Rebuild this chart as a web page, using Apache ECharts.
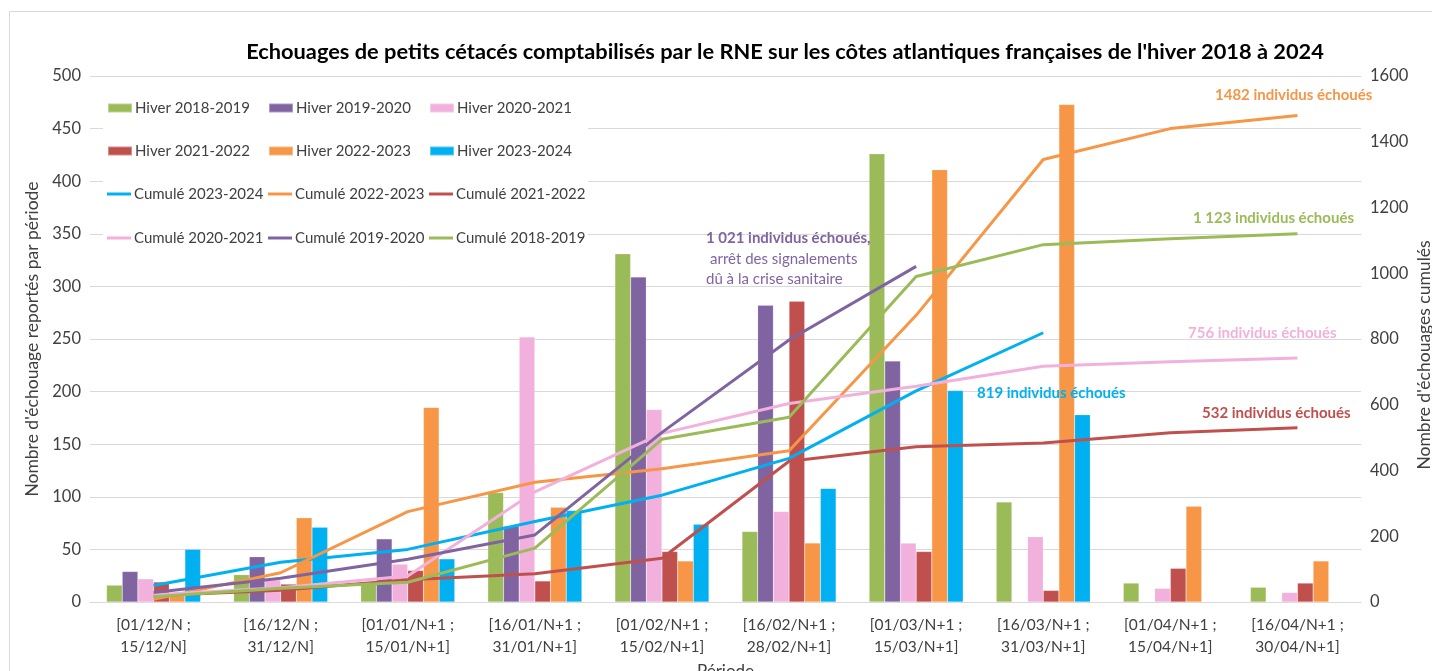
<!DOCTYPE html>
<html>
<head>
<meta charset="utf-8">
<script src="https://cdn.jsdelivr.net/npm/echarts@6/dist/echarts.min.js"></script>
<style>
html,body{margin:0;padding:0;background:#fff;overflow:hidden;width:100%;height:100%;}
#chart{position:absolute;left:0;top:0;width:1432px;height:671px;}
</style>
</head>
<body>
<div id="chart"></div>
<script>
// ---- Data ----
const categories = [
  '[01/12/N ;\n15/12/N]', '[16/12/N ;\n31/12/N]', '[01/01/N+1 ;\n15/01/N+1]', '[16/01/N+1 ;\n31/01/N+1]',
  '[01/02/N+1 ;\n15/02/N+1]', '[16/02/N+1 ;\n28/02/N+1]', '[01/03/N+1 ;\n15/03/N+1]', '[16/03/N+1 ;\n31/03/N+1]',
  '[01/04/N+1 ;\n15/04/N+1]', '[16/04/N+1 ;\n30/04/N+1]'
];
const hiver2018_2019 = [16, 26, 18, 104, 331, 67, 426, 95, 18, 14];
const hiver2019_2020 = [29, 43, 60, 72, 309, 282, 229, null, null, null];
const hiver2020_2021 = [22, 21, 36, 252, 183, 86, 56, 62, 13, 9];
const hiver2021_2022 = [19, 17, 30, 20, 48, 286, 48, 11, 32, 18];
const hiver2022_2023 = [6, 80, 185, 90, 39, 56, 411, 473, 91, 39];
const hiver2023_2024 = [50, 71, 41, 87, 74, 108, 201, 178, null, null];

const cumul2023_2024 = [50, 121, 160, 245, 325, 437, 642, 819, null, null];
const cumul2022_2023 = [8, 89, 275, 364, 405, 460, 872, 1346, 1440, 1480];
const cumul2021_2022 = [19, 36, 68, 86, 133, 428, 472, 484, 515, 530];
const cumul2020_2021 = [22, 43, 79, 335, 513, 604, 656, 717, 731, 742];
const cumul2019_2020 = [29, 72, 130, 204, 516, 797, 1021, null, null, null];
const cumul2018_2019 = [16, 42, 60, 164, 495, 562, 990, 1087, 1105, 1120];

const leftTicks = {min: 0, max: 500, interval: 50};
const rightTicks = {min: 0, max: 1600, interval: 200};

// ---- Styles ----
const C = {
  green: '#9BBB59', purple: '#8064A2', pink: '#F2B1DC',
  red: '#C0504D', orange: '#F79646', blue: '#00B0F0'
};
const FONT = 'Lato, "Open Sans", sans-serif';
const TXT = '#404040';

const barSeries = [
  ['Hiver 2018-2019', hiver2018_2019, C.green],
  ['Hiver 2019-2020', hiver2019_2020, C.purple],
  ['Hiver 2020-2021', hiver2020_2021, C.pink],
  ['Hiver 2021-2022', hiver2021_2022, C.red],
  ['Hiver 2022-2023', hiver2022_2023, C.orange],
  ['Hiver 2023-2024', hiver2023_2024, C.blue]
].map(([name, data, color]) => ({
  name, type: 'bar', data, yAxisIndex: 0, z: 2,
  barGap: '0%', barCategoryGap: '26%',
  itemStyle: {color, borderColor: 'rgba(255,255,255,0.35)', borderWidth: 0.5},
  emphasis: {disabled: true}
}));

const lineSeries = [
  ['Cumulé 2023-2024', cumul2023_2024, C.blue],
  ['Cumulé 2022-2023', cumul2022_2023, C.orange],
  ['Cumulé 2021-2022', cumul2021_2022, C.red],
  ['Cumulé 2020-2021', cumul2020_2021, C.pink],
  ['Cumulé 2019-2020', cumul2019_2020, C.purple],
  ['Cumulé 2018-2019', cumul2018_2019, C.green]
].map(([name, data, color]) => ({
  name, type: 'line', data, yAxisIndex: 1, z: 5,
  symbol: 'none', showSymbol: false, connectNulls: false,
  itemStyle: {color},
  lineStyle: {color, width: 3},
  emphasis: {disabled: true}
}));

// legend layout: 4 rows x 3 columns, one legend per item
const legendNames = [
  ['Hiver 2018-2019', 'Hiver 2019-2020', 'Hiver 2020-2021'],
  ['Hiver 2021-2022', 'Hiver 2022-2023', 'Hiver 2023-2024'],
  ['Cumulé 2023-2024', 'Cumulé 2022-2023', 'Cumulé 2021-2022'],
  ['Cumulé 2020-2021', 'Cumulé 2019-2020', 'Cumulé 2018-2019']
];
const rowY = [108, 151, 194, 238];
const colX = [107, 268, 429];
const legends = [];
legendNames.forEach((row, r) => {
  row.forEach((name, c) => {
    const isBar = r < 2;
    legends.push({
      data: [{name, icon: 'rect'}],
      left: colX[c], top: rowY[r] - 10,
      padding: 0,
      itemWidth: 24, itemHeight: isBar ? 9 : 3,
      itemGap: 0,
      selectedMode: false,
      textStyle: {fontFamily: FONT, fontSize: 15, color: TXT, padding: [0, 0, 0, -2], lineHeight: 20}
    });
  });
});

function note(text, x, y, color, bold) {
  return {
    type: 'text', left: x, top: y - 10, z: 10,
    style: {text, fill: color, font: (bold ? 'bold ' : '') + '15px ' + FONT}
  };
}

const option = {
  backgroundColor: '#ffffff',
  animation: false,
  title: {
    text: "Echouages de petits cétacés comptabilisés par le RNE sur les côtes atlantiques françaises de l'hiver 2018 à 2024",
    left: 780, top: 36, textAlign: 'center',
    textStyle: {fontFamily: FONT, fontWeight: 'bold', fontSize: 21.8, color: '#000'}
  },
  legend: legends,
  grid: {left: 90, right: 71, top: 76, bottom: 69, containLabel: false, outerBoundsMode: 'none'},
  xAxis: {
    type: 'category', data: categories,
    name: 'Période', nameLocation: 'middle', nameGap: 61,
    nameTextStyle: {fontFamily: FONT, fontSize: 17, color: TXT},
    axisLine: {lineStyle: {color: '#d9d9d9', width: 1}},
    axisTick: {show: false},
    axisLabel: {fontFamily: FONT, fontSize: 15.5, color: TXT, margin: 12, lineHeight: 22, interval: 0}
  },
  yAxis: [
    {
      type: 'value', min: leftTicks.min, max: leftTicks.max, interval: leftTicks.interval,
      name: "Nombre d'échouage reportés par période", nameLocation: 'middle', nameGap: 47, nameRotate: 90,
      nameTextStyle: {fontFamily: FONT, fontSize: 17.5, color: TXT},
      axisLine: {show: false}, axisTick: {show: false},
      axisLabel: {fontFamily: FONT, fontSize: 16.5, color: TXT, margin: 9, formatter: v => String(v)},
      splitLine: {lineStyle: {color: '#d9d9d9', width: 1}}
    },
    {
      type: 'value', min: rightTicks.min, max: rightTicks.max, interval: rightTicks.interval,
      position: 'right',
      axisLine: {show: false}, axisTick: {show: false},
      axisLabel: {fontFamily: FONT, fontSize: 16.5, color: TXT, margin: 9, formatter: v => String(v)},
      splitLine: {show: false}
    }
  ],
  graphic: [
    {type: 'rect', left: 7, top: 9, z: -10, silent: true,
     shape: {width: 1500, height: 700}, style: {fill: 'none', stroke: '#d9d9d9', lineWidth: 1}},
    {type: 'rect', left: 103, top: 92, z: 1, silent: true,
     shape: {width: 485, height: 158}, style: {fill: '#ffffff'}},
    {type: 'text', x: 1424, y: 355, rotation: Math.PI / 2, z: 10, silent: true,
     style: {text: "Nombre d'échouages cumulés", x: 0, y: 0, align: 'center', verticalAlign: 'middle',
             fill: TXT, font: '17.5px ' + FONT}},
    note('1482 individus échoués', 1215, 98, C.orange, true),
    note('1 123 individus échoués', 1193, 221, C.green, true),
    note('1 021 individus échoués,', 706, 241, C.purple, true),
    note('arrêt des signalements', 710, 262, C.purple, false),
    note('dû à la crise sanitaire', 706, 282, C.purple, false),
    note('756 individus échoués', 1188, 336, C.pink, true),
    note('819 individus échoués', 977, 396, C.blue, true),
    note('532 individus échoués', 1202, 416, C.red, true)
  ],
  series: barSeries.concat(lineSeries)
};

const chart = echarts.init(document.getElementById('chart'), null, {renderer: 'canvas', width: 1432, height: 671});
chart.setOption(option);
</script>
</body>
</html>
